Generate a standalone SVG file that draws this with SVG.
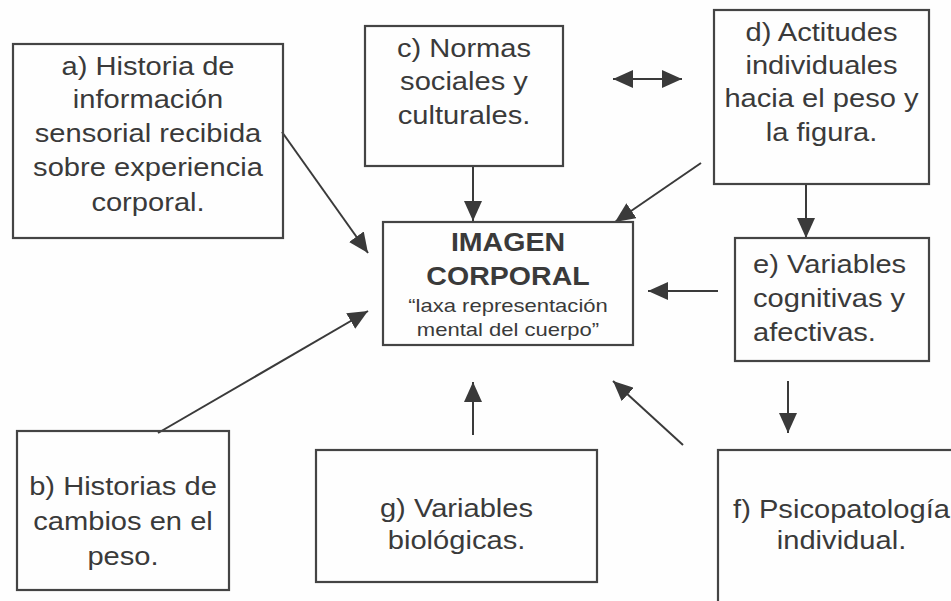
<svg xmlns="http://www.w3.org/2000/svg" width="951" height="601" viewBox="0 0 951 601">
<defs>
<style>
.box{fill:none;stroke:#444;stroke-width:2.2}
.t{font-family:"Liberation Sans",Arial,sans-serif;font-size:26px;fill:#3a3a3a;text-anchor:middle}
.tl{text-anchor:start}
.b{font-weight:bold;font-size:25.5px}
.s{font-size:19px}
.c{stroke:#3a3a3a;stroke-width:2;fill:none;marker-end:url(#ah)}
</style>
<marker id="ah" markerUnits="userSpaceOnUse" markerWidth="20" markerHeight="18" refX="20" refY="9" orient="auto-start-reverse">
<path d="M0,0 L20,9 L0,18 z" fill="#3a3a3a"/>
</marker>
</defs>
<rect width="951" height="601" fill="#fefefe"/>
<g id="connectors">
<line class="c" x1="282" y1="132" x2="368" y2="253"/>
<line class="c" x1="473" y1="166" x2="473" y2="221"/>
<line class="c" x1="613" y1="79" x2="682" y2="79" style="marker-start:url(#ah)"/>
<line class="c" x1="701" y1="163" x2="615" y2="222"/>
<line class="c" x1="806" y1="184" x2="806" y2="238"/>
<line class="c" x1="718" y1="291" x2="648" y2="291"/>
<line class="c" x1="158" y1="433" x2="368" y2="311"/>
<line class="c" x1="473" y1="435" x2="473" y2="382"/>
<line class="c" x1="683" y1="445" x2="613" y2="381"/>
<line class="c" x1="788" y1="381" x2="788" y2="433"/>
</g>
<g id="a">
<rect class="box" x="13" y="44" width="270" height="194"/>
<text class="t" transform="translate(148 0) scale(1.12 1)"><tspan x="0" y="75">a) Historia de</tspan><tspan x="0" y="108">información</tspan><tspan x="0" y="142">sensorial recibida</tspan><tspan x="0" y="176">sobre experiencia</tspan><tspan x="0" y="211">corporal.</tspan></text>
</g>
<g id="c">
<rect class="box" x="365" y="26" width="198" height="140"/>
<text class="t" transform="translate(464 0) scale(1.12 1)"><tspan x="0" y="57">c) Normas</tspan><tspan x="0" y="90">sociales y</tspan><tspan x="0" y="124">culturales.</tspan></text>
</g>
<g id="d">
<rect class="box" x="714" y="10" width="215" height="174"/>
<text class="t" transform="translate(821.5 0) scale(1.12 1)"><tspan x="0" y="41">d) Actitudes</tspan><tspan x="0" y="74">individuales</tspan><tspan x="0" y="107">hacia el peso y</tspan><tspan x="0" y="141">la figura.</tspan></text>
</g>
<g id="center">
<rect class="box" x="383" y="222" width="250" height="123"/>
<text class="t b" transform="translate(508 0) scale(1.12 1)"><tspan x="0" y="251">IMAGEN</tspan><tspan x="0" y="285">CORPORAL</tspan></text>
<text class="t s" transform="translate(508 0) scale(1.16 1)"><tspan x="0" y="312">“laxa representación</tspan><tspan x="0" y="336">mental del cuerpo”</tspan></text>
</g>
<g id="e">
<rect class="box" x="735" y="238" width="194" height="123"/>
<text class="t tl" transform="translate(753 0) scale(1.12 1)"><tspan x="0" y="273">e) Variables</tspan><tspan x="0" y="307">cognitivas y</tspan><tspan x="0" y="341">afectivas.</tspan></text>
</g>
<g id="b">
<rect class="box" x="17" y="431" width="212" height="159"/>
<text class="t" transform="translate(123 0) scale(1.12 1)"><tspan x="0" y="495">b) Historias de</tspan><tspan x="0" y="530">cambios en el</tspan><tspan x="0" y="565">peso.</tspan></text>
</g>
<g id="g">
<rect class="box" x="316" y="450" width="281" height="132"/>
<text class="t" transform="translate(456.5 0) scale(1.12 1)"><tspan x="0" y="517">g) Variables</tspan><tspan x="0" y="549">biológicas.</tspan></text>
</g>
<g id="f">
<rect class="box" x="718" y="450" width="260" height="170"/>
<text class="t" transform="translate(841.5 0) scale(1.12 1)"><tspan x="0" y="518">f) Psicopatología</tspan><tspan x="0" y="549">individual.</tspan></text>
</g>
</svg>
